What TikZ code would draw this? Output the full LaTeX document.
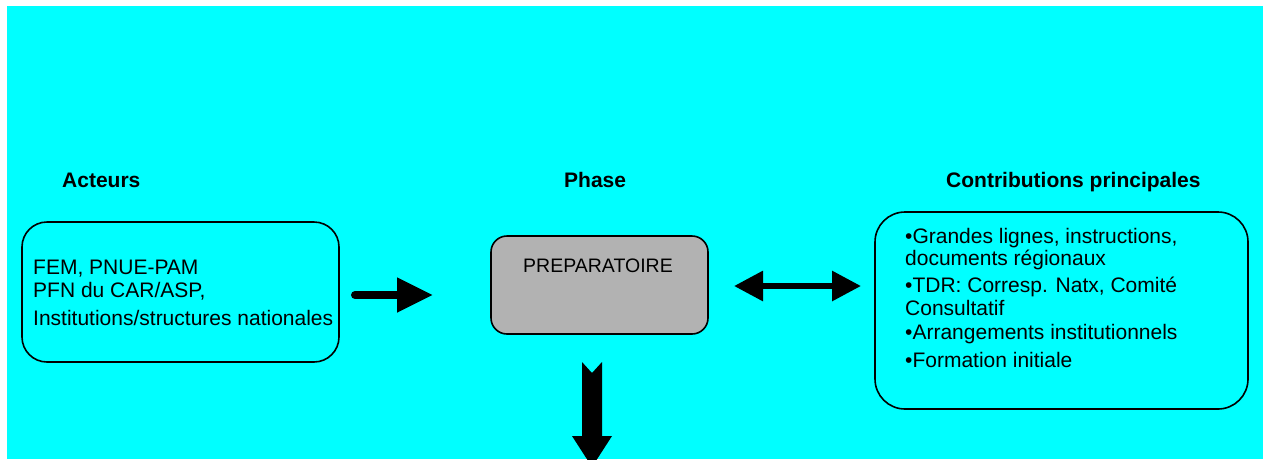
\documentclass[tikz,border=0pt]{standalone}
\usepackage{fontspec}
\setmainfont{Liberation Sans}
\usetikzlibrary{arrows.meta}
\definecolor{bgcyan}{RGB}{0,255,255}
\definecolor{phasegray}{RGB}{178,178,178}

\begin{document}
\begin{tikzpicture}[x=1pt, y=-1pt,
    box/.style={draw, line width=1.6pt, rounded corners=#1, inner sep=0pt},
    box/.default=20pt,
    txt/.style={anchor=base west, inner sep=0pt, align=left, font=\fontsize{21}{23}\selectfont},
    head/.style={anchor=base west, inner sep=0pt, font=\fontsize{21}{23}\selectfont\bfseries}]
    \useasboundingbox (0,0) rectangle (1265,459);
    \fill[bgcyan] (7,6) rectangle (1263,459);

    \node[head] (hactors) at (62,187) {Acteurs};
    \node[head] (hphase) at (564,187) {Phase};
    \node[head] (hcontrib) at (946,187) {Contributions principales};

    \node[box=25pt, minimum width=317pt, minimum height=140pt] (actors) at (180.5,292) {};
    \node[box=16pt, fill=phasegray, minimum width=217pt, minimum height=98pt] (phase) at (599.5,285) {};
    \node[box=30pt, minimum width=373pt, minimum height=197pt] (contrib) at (1061.5,310.5) {};

    \node[txt] (actorstext) at (33,325) {FEM, PNUE-PAM\\PFN du CAR/ASP,\\[5pt]Institutions/structures nationales};
    \node[anchor=base, inner sep=0pt, font=\fontsize{19.5}{21}\selectfont] (phasetext) at (598,272) {PREPARATOIRE};
    \node[txt] (contribtext) at (905,367) {•Grandes lignes, instructions,\\[-1pt]documents régionaux\\[4pt]•TDR: Corresp. Natx, Comité\\Consultatif\\[1pt]•Arrangements institutionnels\\[5pt]•Formation initiale};

    \coordinate (r1) at (355,295);
    \coordinate (r2) at (433,295);
    \draw[line width=8pt, line cap=round, -{Triangle[length=36pt,width=33pt]}] (r1) -- (r2);
    \coordinate (d1) at (734,286);
    \coordinate (d2) at (861,286);
    \draw[line width=6pt, {Triangle[length=29pt,width=29pt]}-{Triangle[length=29pt,width=29pt]}] (d1) -- (d2);
    \coordinate (down) at (592,362);
    \fill (down) ++(-10,0) -- ++(10,11) -- ++(10,-11) -- ++(0,74) -- ++(10,0) -- ++(-20,31) -- ++(-20,-31) -- ++(10,0) -- cycle;
\end{tikzpicture}
\end{document}
